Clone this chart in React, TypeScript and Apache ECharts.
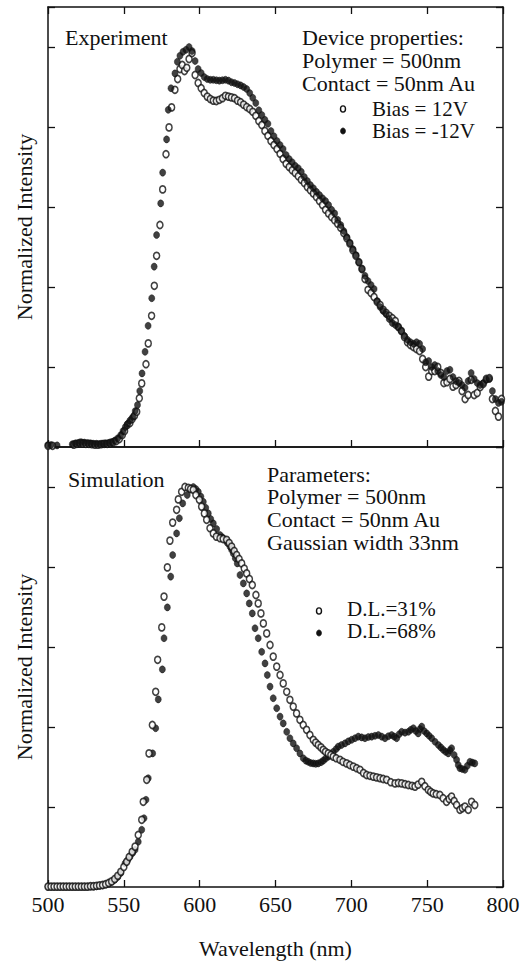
import React, { useEffect, useRef } from "react";
import * as echarts from "echarts";

// ---------- Data ----------
// Top panel: Experiment
const expPosX = [500, 503, 517, 519, 521, 523, 525, 527, 529, 531, 533, 535, 537, 539, 541, 543, 545, 547, 549, 550.5, 552.3, 554, 555.5, 557, 558.5, 560.2, 561.8, 564.6, 566.1, 568.3, 570.1, 571.6, 573.8, 575.6, 577.8, 579.8, 581.5, 583.7, 585.5, 587, 588.5, 590, 591.5, 593, 595, 597, 599, 601, 603, 605, 607, 609, 611, 613, 615, 617, 619, 621, 623, 625, 627, 629, 631, 633, 635, 637, 639, 641, 643, 645, 647, 649, 651, 653, 655, 657, 659, 661, 663, 665, 667, 669, 671, 673, 675, 677, 679, 681, 683, 685, 687, 689, 691, 693, 695, 697, 699, 701, 703, 705, 707, 709, 711, 713, 715, 717, 719, 721, 723, 725, 727, 729, 731, 733, 735, 737, 739, 741, 743, 745, 747, 749, 751, 753, 755, 757, 759, 761, 763, 765, 767, 769, 771, 773, 775, 777, 779, 781, 783, 785, 787, 789, 791, 793, 795, 797, 799, 800.5];
const expPosY = [0.003, 0.003, 0.006, 0.008, 0.01, 0.009, 0.008, 0.008, 0.007, 0.006, 0.006, 0.007, 0.008, 0.008, 0.01, 0.012, 0.015, 0.02, 0.03, 0.04, 0.055, 0.06, 0.07, 0.078, 0.088, 0.122, 0.159, 0.207, 0.259, 0.328, 0.403, 0.478, 0.555, 0.644, 0.732, 0.799, 0.849, 0.893, 0.92, 0.945, 0.955, 0.94, 0.948, 0.97, 0.985, 0.93, 0.91, 0.897, 0.885, 0.876, 0.87, 0.866, 0.865, 0.868, 0.872, 0.878, 0.876, 0.874, 0.872, 0.866, 0.862, 0.856, 0.85, 0.845, 0.838, 0.828, 0.815, 0.805, 0.79, 0.778, 0.765, 0.755, 0.745, 0.733, 0.72, 0.708, 0.7, 0.692, 0.685, 0.677, 0.668, 0.66, 0.65, 0.642, 0.634, 0.625, 0.615, 0.605, 0.593, 0.584, 0.575, 0.567, 0.558, 0.548, 0.535, 0.522, 0.509, 0.492, 0.478, 0.462, 0.445, 0.42, 0.393, 0.385, 0.375, 0.363, 0.355, 0.343, 0.335, 0.328, 0.322, 0.315, 0.3, 0.29, 0.275, 0.262, 0.255, 0.25, 0.245, 0.24, 0.22, 0.2, 0.176, 0.19, 0.19, 0.2, 0.185, 0.16, 0.162, 0.17, 0.151, 0.155, 0.165, 0.14, 0.12, 0.13, 0.168, 0.13, 0.135, 0.15, 0.158, 0.17, 0.172, 0.12, 0.09, 0.076, 0.12, 0.141];

const expNegX = [500, 502, 506, 516, 518, 520, 522, 524, 526, 528, 530, 532, 534, 536, 538, 540, 542, 544, 546, 548, 549.5, 551, 552.5, 554, 556, 557.5, 559, 560.5, 562, 564, 566, 568.4, 570, 571.6, 574.3, 575.6, 578.2, 579.3, 581.1, 583.7, 585.3, 587, 589, 591, 593, 595, 597, 599, 601, 603, 605, 607, 609, 611, 613, 615, 617, 619, 621, 623, 625, 627, 629, 631, 633, 635, 637, 639, 641, 643, 645, 647, 649, 651, 653, 655, 657, 659, 661, 663, 665, 667, 669, 671, 673, 675, 677, 679, 681, 683, 685, 687, 689, 691, 693, 695, 697, 699, 701, 703, 705, 707, 709, 711, 713, 715, 717, 719, 721, 723, 725, 727, 729, 731, 733, 735, 737, 739, 741, 743, 745, 747, 749, 751, 753, 755, 757, 759, 761, 763, 765, 767, 769, 771, 773, 775, 777, 779, 781, 783, 785, 787, 789, 791, 793, 795, 797, 799];
const expNegY = [0.005, 0.005, 0.004, 0.007, 0.009, 0.01, 0.012, 0.011, 0.01, 0.009, 0.008, 0.008, 0.007, 0.008, 0.009, 0.01, 0.012, 0.016, 0.022, 0.03, 0.04, 0.05, 0.058, 0.066, 0.075, 0.09, 0.105, 0.14, 0.184, 0.238, 0.303, 0.372, 0.451, 0.53, 0.609, 0.686, 0.769, 0.843, 0.897, 0.934, 0.963, 0.978, 0.988, 0.993, 1.0, 0.99, 0.965, 0.945, 0.935, 0.925, 0.92, 0.918, 0.918, 0.917, 0.916, 0.917, 0.918, 0.916, 0.912, 0.91, 0.907, 0.904, 0.9, 0.895, 0.885, 0.873, 0.86, 0.842, 0.83, 0.818, 0.808, 0.79, 0.777, 0.765, 0.755, 0.745, 0.73, 0.72, 0.712, 0.703, 0.697, 0.688, 0.675, 0.665, 0.655, 0.647, 0.638, 0.63, 0.622, 0.615, 0.605, 0.593, 0.584, 0.568, 0.555, 0.54, 0.525, 0.51, 0.495, 0.48, 0.462, 0.445, 0.428, 0.415, 0.405, 0.395, 0.365, 0.35, 0.34, 0.332, 0.32, 0.31, 0.305, 0.3, 0.29, 0.278, 0.268, 0.262, 0.258, 0.262, 0.258, 0.245, 0.212, 0.215, 0.2, 0.205, 0.19, 0.18, 0.175, 0.19, 0.193, 0.175, 0.165, 0.16, 0.155, 0.148, 0.165, 0.185, 0.17, 0.16, 0.155, 0.16, 0.168, 0.17, 0.14, 0.12, 0.11, 0.113];

// Bottom panel: Simulation
const simLowX = [500, 502, 504, 506, 508, 510, 512, 514, 516, 518, 520, 522, 524, 526, 528, 530, 532, 534, 536, 538, 540, 542, 544, 546, 548, 550, 551.9, 553.5, 555.5, 557.4, 559.5, 561.8, 562.8, 565.1, 566.6, 568.8, 571, 572.3, 575, 576.5, 578.7, 580.4, 582.2, 584.8, 585.9, 588.1, 590.3, 592.5, 594, 595.8, 597.5, 599.8, 601.3, 603.1, 604.6, 606.8, 609, 611, 613.4, 615.5, 617.8, 619.5, 621.1, 622.8, 624.4, 626, 627.7, 629.4, 631, 632.8, 634.7, 637.1, 638.6, 640.4, 642, 644.2, 646.4, 648.5, 650.8, 653, 655.1, 657.4, 659.5, 661.7, 663.9, 666.1, 668.3, 670.5, 672.7, 674.9, 676.5, 678.2, 680, 681.5, 683, 684.8, 686.5, 688.1, 690, 692.5, 694.5, 696.9, 699, 701.3, 703.5, 705.7, 708, 710.1, 712.3, 714.5, 716.7, 718.9, 721, 723.3, 726, 728.8, 731, 733.2, 735.4, 737.6, 740, 742, 744, 746.4, 748.5, 750.7, 752.3, 754, 756, 758.4, 760.5, 762.8, 764.5, 766.1, 767.8, 769.4, 771.6, 773.2, 774.9, 777.1, 779.3, 781.4];
const simLowY = [0.001, 0.001, 0.001, 0.001, 0.001, 0.001, 0.001, 0.001, 0.001, 0.001, 0.001, 0.001, 0.001, 0.001, 0.002, 0.002, 0.003, 0.004, 0.005, 0.007, 0.01, 0.014, 0.02, 0.028, 0.038, 0.05, 0.063, 0.075, 0.088, 0.101, 0.13, 0.168, 0.213, 0.268, 0.334, 0.405, 0.488, 0.568, 0.649, 0.726, 0.799, 0.866, 0.911, 0.943, 0.969, 0.988, 1.0, 0.998, 0.995, 0.993, 0.98, 0.968, 0.951, 0.934, 0.918, 0.897, 0.884, 0.876, 0.872, 0.87, 0.868, 0.86, 0.851, 0.84, 0.83, 0.82, 0.809, 0.796, 0.784, 0.77, 0.755, 0.73, 0.709, 0.684, 0.659, 0.634, 0.605, 0.576, 0.551, 0.53, 0.509, 0.488, 0.468, 0.451, 0.434, 0.418, 0.405, 0.393, 0.38, 0.368, 0.361, 0.355, 0.349, 0.343, 0.338, 0.334, 0.33, 0.326, 0.322, 0.318, 0.313, 0.309, 0.305, 0.301, 0.297, 0.293, 0.285, 0.28, 0.278, 0.276, 0.274, 0.272, 0.27, 0.268, 0.262, 0.259, 0.26, 0.259, 0.257, 0.255, 0.253, 0.251, 0.256, 0.263, 0.252, 0.243, 0.238, 0.234, 0.232, 0.23, 0.222, 0.213, 0.22, 0.226, 0.215, 0.205, 0.193, 0.197, 0.201, 0.193, 0.213, 0.205];

const simHighX = [500, 502, 504, 506, 508, 510, 512, 514, 516, 518, 520, 522, 524, 526, 528, 530, 532, 534, 536, 538, 540, 542, 544, 546, 548, 550.8, 552.5, 554.1, 555.8, 557.4, 559.5, 561.8, 563.3, 564.6, 566.1, 569, 571, 572.7, 575.4, 576.5, 578.7, 580.9, 582.2, 584.8, 586.6, 588.8, 591.8, 593.8, 595.8, 597.5, 599.1, 600.8, 602.4, 604, 605.7, 607.3, 609, 611.2, 613.4, 615, 616.7, 618.3, 620, 621.1, 622.2, 623.5, 624.8, 626.6, 628.8, 631, 632.7, 634.7, 636.5, 638.6, 640.9, 643.1, 644.6, 646.4, 648.5, 650.8, 653, 655.1, 657.4, 659.5, 661.7, 663.9, 666.1, 668.3, 670, 671.6, 673.2, 674.9, 676.5, 678.2, 680, 681.5, 683, 684.8, 686.5, 688.1, 690, 691.4, 693.5, 695.8, 698, 700.2, 702.4, 704.6, 706.8, 709, 711.2, 713.4, 715.6, 717.8, 720, 722.2, 724.4, 726.6, 728.3, 729.9, 731.5, 733.2, 735.4, 737.6, 739.2, 740.9, 742.5, 744.1, 745.3, 746.4, 748, 749.7, 751.3, 753, 755.2, 757.4, 759, 760.6, 762.2, 763.9, 765, 766.1, 767.8, 769.4, 770.5, 771.6, 773.2, 774.9, 776.5, 778.2, 779.8, 781.4];
const simHighY = [0.001, 0.001, 0.001, 0.001, 0.001, 0.001, 0.001, 0.001, 0.001, 0.001, 0.001, 0.001, 0.001, 0.001, 0.001, 0.001, 0.002, 0.003, 0.004, 0.006, 0.009, 0.013, 0.018, 0.025, 0.035, 0.059, 0.067, 0.076, 0.085, 0.093, 0.113, 0.143, 0.172, 0.218, 0.272, 0.334, 0.397, 0.469, 0.544, 0.622, 0.699, 0.776, 0.83, 0.884, 0.922, 0.959, 0.98, 0.995, 1.0, 0.995, 0.988, 0.976, 0.963, 0.948, 0.934, 0.92, 0.909, 0.895, 0.88, 0.874, 0.868, 0.86, 0.851, 0.843, 0.834, 0.822, 0.809, 0.78, 0.759, 0.734, 0.709, 0.684, 0.647, 0.622, 0.588, 0.559, 0.53, 0.501, 0.472, 0.447, 0.426, 0.409, 0.388, 0.372, 0.359, 0.347, 0.334, 0.322, 0.316, 0.313, 0.31, 0.309, 0.308, 0.309, 0.312, 0.316, 0.321, 0.326, 0.332, 0.338, 0.345, 0.351, 0.355, 0.359, 0.364, 0.368, 0.372, 0.376, 0.374, 0.372, 0.375, 0.376, 0.378, 0.38, 0.376, 0.372, 0.377, 0.38, 0.376, 0.372, 0.382, 0.388, 0.386, 0.388, 0.393, 0.397, 0.39, 0.384, 0.395, 0.401, 0.39, 0.384, 0.378, 0.372, 0.363, 0.355, 0.349, 0.343, 0.338, 0.334, 0.342, 0.347, 0.33, 0.318, 0.305, 0.297, 0.295, 0.293, 0.303, 0.313, 0.311, 0.309];

const xTicks = [500, 550, 600, 650, 700, 750, 800];
const topNotes = ["Device properties:", "Polymer = 500nm", "Contact = 50nm Au"];
const topLegend = ["Bias = 12V", "Bias = -12V"];
const bottomNotes = ["Parameters:", "Polymer = 500nm", "Contact = 50nm Au", "Gaussian width 33nm"];
const bottomLegend = ["D.L.=31%", "D.L.=68%"];

const FONT = '"Liberation Serif", "Times New Roman", serif';
const INK = "#111";

const pairs = (xs: number[], ys: number[]) => xs.map((x, i) => [x, ys[i]]);

export default function App() {
  const ref = useRef<HTMLDivElement>(null);
  useEffect(() => {
    if (!ref.current) return;
    const chart = echarts.init(ref.current, undefined, { renderer: "svg" });

    const gridTops = [7, 447];
    const gridH = 440;

    const xAxisBase = (gridIndex: number, position: "top" | "bottom", labels: boolean, ticks: boolean) => ({
      type: "value",
      gridIndex,
      position,
      min: xTicks[0],
      max: xTicks[xTicks.length - 1],
      interval: 50,
      axisLine: { show: true, onZero: false, lineStyle: { color: INK, width: 1.5 } },
      axisTick: { show: ticks, inside: true, length: 7, lineStyle: { color: INK, width: 1.3 } },
      axisLabel: {
        show: labels,
        margin: 6,
        color: INK,
        fontFamily: FONT,
        fontSize: 22,
      },
      splitLine: { show: false },
    });

    const yAxisBase = (gridIndex: number, position: "left" | "right", name: string) => ({
      type: "value",
      gridIndex,
      position,
      min: 0,
      max: 1.1,
      interval: 0.2,
      name,
      nameLocation: "middle",
      nameGap: 13,
      nameRotate: 90,
      nameTextStyle: { color: INK, fontFamily: FONT, fontSize: 22 },
      axisLine: { show: true, onZero: false, lineStyle: { color: INK, width: 1.5 } },
      axisTick: { show: true, inside: true, length: 7, lineStyle: { color: INK, width: 1.3 } },
      axisLabel: { show: false },
      splitLine: { show: false },
    });

    const openStyle = { color: "#fff", borderColor: INK, borderWidth: 1.6 };
    const fillStyle = { color: INK, borderColor: INK, borderWidth: 0.6 };
    const symSize = [6, 7];

    const text = (t: string, x: number, y: number, size = 22) => ({
      type: "text",
      x,
      y,
      style: {
        text: t,
        fill: INK,
        font: `${size}px ${FONT}`,
        textAlign: "left",
        textVerticalAlign: "middle",
        verticalAlign: "middle",
      },
    });
    const marker = (x: number, y: number, filled: boolean) => ({
      type: "ellipse",
      shape: { cx: x, cy: y, rx: 2.5, ry: 3.1 },
      style: filled ? { fill: INK, stroke: INK, lineWidth: 0.6 } : { fill: "#fff", stroke: INK, lineWidth: 1.4 },
    });

    const graphics: any[] = [
      text("Experiment", 65, 37),
      ...topNotes.map((t, i) => text(t, 302, 37 + i * 23)),
      text(topLegend[0], 372, 108.5, 21),
      text(topLegend[1], 372, 130.5, 21),
      marker(343, 109, false),
      marker(343, 131, true),
      text("Simulation", 68, 479),
      ...bottomNotes.map((t, i) => text(t, 267, 474 + i * 22.8)),
      text(bottomLegend[0], 347, 609, 21),
      text(bottomLegend[1], 347, 631, 21),
      marker(319, 611, false),
      marker(319, 633, true),
    ];

    chart.setOption({
      animation: false,
      backgroundColor: "#fff",
      grid: gridTops.map((t) => ({ left: 48, width: 455, top: t, height: gridH, containLabel: false })),
      xAxis: [
        xAxisBase(0, "bottom", false, true),
        xAxisBase(0, "top", false, true),
        {
          ...xAxisBase(1, "bottom", true, true),
          name: "Wavelength (nm)",
          nameLocation: "middle",
          nameGap: 50,
          nameTextStyle: { color: INK, fontFamily: FONT, fontSize: 22 },
        },
        xAxisBase(1, "top", false, false),
      ],
      yAxis: [
        yAxisBase(0, "left", "Normalized Intensity"),
        yAxisBase(0, "right", ""),
        yAxisBase(1, "left", "Normalized Intensity"),
        yAxisBase(1, "right", ""),
      ],
      series: [
        {
          name: topLegend[0],
          type: "scatter",
          xAxisIndex: 0,
          yAxisIndex: 0,
          symbol: "circle",
          symbolSize: symSize,
          itemStyle: openStyle,
          data: pairs(expPosX, expPosY),
        },
        {
          name: topLegend[1],
          type: "scatter",
          xAxisIndex: 0,
          yAxisIndex: 0,
          symbol: "circle",
          symbolSize: symSize,
          itemStyle: fillStyle,
          data: pairs(expNegX, expNegY),
        },
        {
          name: bottomLegend[1],
          type: "scatter",
          xAxisIndex: 2,
          yAxisIndex: 2,
          symbol: "circle",
          symbolSize: symSize,
          itemStyle: fillStyle,
          data: pairs(simHighX, simHighY),
        },
        {
          name: bottomLegend[0],
          type: "scatter",
          xAxisIndex: 2,
          yAxisIndex: 2,
          symbol: "circle",
          symbolSize: symSize,
          itemStyle: openStyle,
          data: pairs(simLowX, simLowY),
        },
      ],
      graphic: graphics,
    });

    return () => chart.dispose();
  }, []);

  return (
    <div
      ref={ref}
      style={{ position: "fixed", left: 0, top: 0, width: 523, height: 962, background: "#fff" }}
    />
  );
}
